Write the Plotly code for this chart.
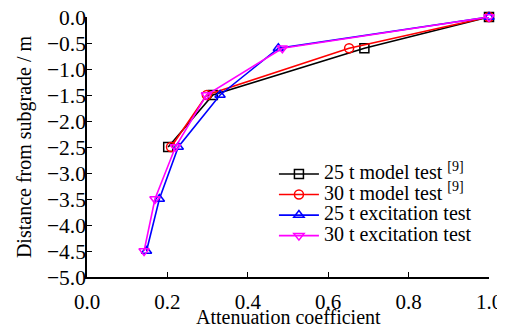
import plotly.graph_objects as go

depth_model = [0.0, -0.6, -1.5, -2.5]
depth_exc = [0.0, -0.6, -1.5, -2.5, -3.5, -4.5]

coef_25_model = [1.0, 0.69, 0.313, 0.202]
coef_30_model = [1.0, 0.652, 0.298, 0.209]
coef_25_exc = [1.0, 0.476, 0.331, 0.227, 0.18, 0.148]
coef_30_exc = [1.0, 0.486, 0.297, 0.22, 0.169, 0.142]

names = ["25 t model test <sup>[9]</sup>", "30 t model test <sup>[9]</sup>",
         "25 t excitation test", "30 t excitation test"]
colors = ["black", "red", "blue", "magenta"]
symbols = ["square-open", "circle-open", "triangle-up-open", "triangle-down-open"]

xticks = [0.0, 0.2, 0.4, 0.6, 0.8, 1.0]
xticktext = ["0.0", "0.2", "0.4", "0.6", "0.8", "1.0"]
yticks = [0.0, -0.5, -1.0, -1.5, -2.0, -2.5, -3.0, -3.5, -4.0, -4.5, -5.0]
yticktext = ["0.0", "\u22120.5", "\u22121.0", "\u22121.5", "\u22122.0", "\u22122.5",
             "\u22123.0", "\u22123.5", "\u22124.0", "\u22124.5", "\u22125.0"]
x_title = "Attenuation coefficient"
y_title = "Distance from subgrade / m"

series = [(coef_25_model, depth_model), (coef_30_model, depth_model),
          (coef_25_exc, depth_exc), (coef_30_exc, depth_exc)]

fig = go.Figure()
for (x, y), n, c, s in zip(series, names, colors, symbols):
    fig.add_trace(go.Scatter(x=x, y=y,
                             name='<span style="font-size:20px">' + n + '</span>',
                             mode="lines+markers",
                             line=dict(color=c, width=1.6),
                             marker=dict(symbol=s, size=9, color=c, line=dict(width=1.5, color=c)),
                             cliponaxis=False))

font = "Liberation Serif, Times New Roman, serif"
fig.update_layout(
    width=505, height=326,
    margin=dict(l=79, r=24, t=9, b=57),
    paper_bgcolor="white", plot_bgcolor="white",
    font=dict(family=font, size=20, color="black"),
    showlegend=True,
    legend=dict(x=0.465, y=0.455, xanchor="left", yanchor="top",
                bgcolor="rgba(0,0,0,0)", font=dict(size=13.5), tracegroupgap=0,
                itemwidth=40),
    xaxis=dict(range=[0, 1.0], tickvals=xticks, ticktext=xticktext,
               ticks="inside", ticklen=5, tickwidth=1.2, tickcolor="black",
               ticklabelstandoff=5, automargin=False, ticklabeloverflow="allow",
               tickfont=dict(size=21),
               showline=True, linecolor="black", linewidth=1.6, showgrid=False,
               zeroline=False),
    yaxis=dict(range=[-5, 0], tickvals=yticks, ticktext=yticktext,
               ticks="inside", ticklen=5, tickwidth=1.2, tickcolor="black",
               ticklabelstandoff=-5, automargin=False, ticklabeloverflow="allow",
               tickfont=dict(size=21.5),
               showline=True, linecolor="black", linewidth=1.6, showgrid=False,
               zeroline=False, title=dict(text=y_title, standoff=10,
                                          font=dict(size=20))),
    annotations=[dict(text=x_title, xref="paper", yref="paper", x=0.5, y=0,
                      xanchor="center", yanchor="top", yshift=-27, showarrow=False,
                      font=dict(size=20))],
)
fig.write_html("out.html")
